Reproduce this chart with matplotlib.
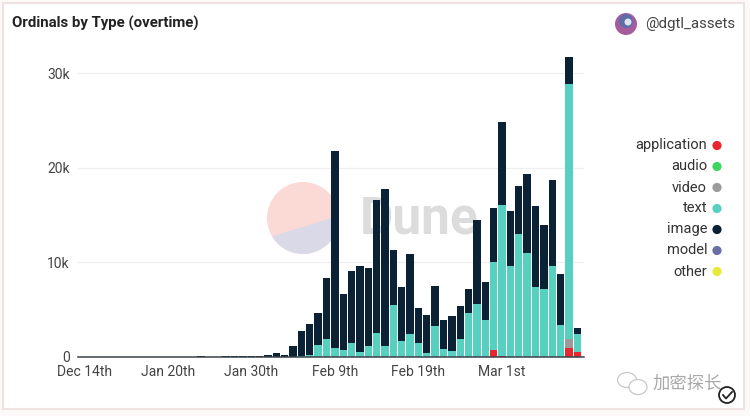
import matplotlib
matplotlib.use("Agg")
import matplotlib.pyplot as plt
from matplotlib.patches import Circle, Ellipse, Polygon, Rectangle
import numpy as np

plt.rcParams['font.family'] = ['Roboto', 'DejaVu Sans']

tick_labels = ["Dec 14th", "Jan 20th", "Jan 30th", "Feb 9th", "Feb 19th", "Mar 1st"]
tick_index = [0, 10, 20, 30, 40, 50]
y_ticks = [0, 10000, 20000, 30000]
y_labels = ["0", "10k", "20k", "30k"]

# one value per bar, 60 bars
application = [0] * 49 + [700, 60, 0, 0, 0, 0, 0, 0, 0, 880, 460]
audio = [0] * 60
video = [0] * 58 + [960, 0]
text = [0] * 26 + [50, 150, 1170, 1870, 880, 700, 1480, 460, 1130, 2470, 1130, 5400,
                   1590, 2330, 1480, 350, 3180, 780, 530, 1840, 4630, 5510, 3890,
                   9260, 15940, 9540, 12930, 10950, 7350, 7170, 9540, 3360, 26960, 1910]
image = [0] * 14 + [20, 0, 0, 30, 20, 60, 20, 30, 170, 350, 180, 1060, 2640, 3310, 3430,
                    6400, 20920, 5940, 7520, 9080, 8230, 14130, 16640, 5900, 5720, 8470,
                    3610, 4000, 4240, 3040, 3710, 3460, 2510, 8940, 3990, 5760, 8800,
                    5830, 5160, 8380, 8620, 6790, 9190, 5330, 2930, 670]
model = [0] * 60
other = [0] * 60

legend_names = ["application", "audio", "video", "text", "image", "model", "other"]
legend_colors = ["#e8262f", "#3fd65f", "#9b9b9b", "#57cfc1", "#0a2136", "#6b6fa8", "#e6e83c"]
series = [application, audio, video, text, image, model, other]

fig = plt.figure(figsize=(7.5, 4.16), dpi=100, facecolor="#fdf9f8")

# pixel overlay behind the chart: card, watermark
bg = fig.add_axes([0, 0, 1, 1], zorder=0)
bg.set_xlim(0, 750)
bg.set_ylim(416, 0)
bg.axis("off")
bg.add_patch(Rectangle((3, 3), 741, 406, fc="white", ec="#efe3e1", lw=1.5))
logo = Circle((303, 218), 36, fc="#fbd9d4", ec="none")
bg.add_patch(logo)
lower = Polygon([(260, 240), (345, 214), (345, 260), (260, 260)], fc="#d9d9e8", ec="none")
bg.add_patch(lower)
lower.set_clip_path(logo)
bg.text(360, 220, "Dune", fontsize=37, fontweight="bold", color="#dcdcdc", va="center", ha="left")

# chart
ax = fig.add_axes([78 / 750, 1 - 356.5 / 416, (584 - 78) / 750, (356.5 - 40) / 416], zorder=1)
ax.patch.set_alpha(0)
x = np.arange(60)
bottom = np.zeros(60)
for values, color in zip(series, legend_colors):
    ax.bar(x, values, bottom=bottom, width=0.88, color=color, linewidth=0, zorder=3)
    bottom += np.array(values)

ax.set_xlim(-0.72, 59.8)
ax.set_ylim(0, 33500)
ax.set_yticks(y_ticks)
ax.set_yticklabels(y_labels)
ax.set_xticks(tick_index)
ax.set_xticklabels(tick_labels)
ax.tick_params(axis="both", length=0, labelsize=10, labelcolor="#444444")
ax.tick_params(axis="x", pad=6)
ax.tick_params(axis="y", pad=6)
ax.grid(axis="y", color="#f0eeee", lw=0.9, zorder=0)
for side in ["top", "right", "left"]:
    ax.spines[side].set_visible(False)
ax.spines["bottom"].set_color("#3a4248")
ax.spines["bottom"].set_linewidth(1.1)
ax.spines["bottom"].set_zorder(4)

# pixel overlay in front: title, legend, account, marks
top = fig.add_axes([0, 0, 1, 1], zorder=2)
top.set_xlim(0, 750)
top.set_ylim(416, 0)
top.axis("off")
top.text(12, 23.5, "Ordinals by Type (overtime)", fontsize=10.8, fontweight="bold",
         color="#222222", va="center", ha="left")

for i, (name, color) in enumerate(zip(legend_names, legend_colors)):
    row = 145.5 + i * 21
    top.text(707, row, name, fontsize=10.5, color="#333333", va="center", ha="right")
    top.add_patch(Circle((717, row), 4.6, fc=color, ec="none"))

top.add_patch(Circle((626, 24), 11, fc="#a45c9c", ec="none"))
top.add_patch(Circle((626, 21), 7, fc="#5b6ea8", ec="none"))
top.add_patch(Circle((628, 22), 3.5, fc="#dfe3ee", ec="none"))
top.text(645, 24, "@dgtl_assets", fontsize=10.8, color="#444444", va="center", ha="left")

top.add_patch(Ellipse((627, 380), 19, 15, fc="white", ec="#c8c8c8", lw=0.9))
top.add_patch(Ellipse((638, 387), 18, 15, fc="white", ec="#c8c8c8", lw=0.9))
top.text(653, 384, "加密探长", family=['Noto Sans CJK SC', 'DejaVu Sans'], fontsize=12.5,
         color="#a8a8a8", va="center", ha="left")
top.add_patch(Circle((727, 395), 8, fc="white", ec="#222222", lw=1.3))
top.plot([723, 726, 732], [395, 398.5, 392], color="#222222", lw=1.3)

fig.savefig("out.png", dpi=100, facecolor=fig.get_facecolor())
